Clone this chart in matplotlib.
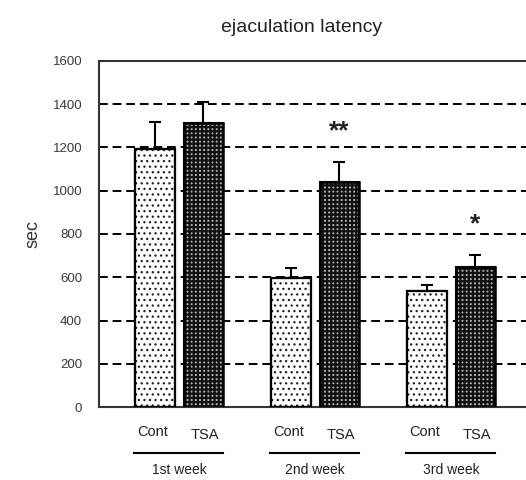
import numpy as np
import matplotlib
matplotlib.use('Agg')
import matplotlib.pyplot as plt

plt.rcParams['font.family'] = ['Liberation Sans', 'DejaVu Sans']

# Data
weeks = ['1st week', '2nd week', '3rd week']
groups = ['Cont', 'TSA']
cont_mean = [1195, 596, 536]
cont_err = [123, 47, 28]
tsa_mean = [1313, 1040, 647]
tsa_err = [97, 93, 56]
stars = ['', '**', '*']
yticks = [0, 200, 400, 600, 800, 1000, 1200, 1400, 1600]

fig = plt.figure(figsize=(5.26, 4.8), dpi=100)
ax = fig.add_axes([0.188, 0.152, 0.812, 0.721])

x = np.arange(len(weeks))
w = 0.29
off = 0.178

# dashed gridlines behind bars
for yv in yticks[1:-1]:
    ax.axhline(yv, color='black', ls=(0, (4.5, 2.5)), lw=1.4, zorder=0)

with plt.rc_context({'hatch.linewidth': 0.9}):
    ax.bar(x - off, cont_mean, w, color='white', edgecolor='#222222', hatch='...',
           lw=1.5, zorder=2)
# TSA: light squares on dark background
with plt.rc_context({'hatch.linewidth': 1.6}):
    ax.bar(x + off, tsa_mean, w, color='#b0b0b0', edgecolor='#111111', hatch='++++',
           lw=1.5, zorder=2)
ax.bar(x - off, cont_mean, w, color='none', edgecolor='black', lw=1.6, zorder=3)
ax.bar(x + off, tsa_mean, w, color='none', edgecolor='black', lw=1.8, zorder=3)

ax.errorbar(x - off, cont_mean, yerr=[np.zeros(3), cont_err], fmt='none',
            ecolor='black', elinewidth=1.5, capsize=4, capthick=1.5, zorder=4)
ax.errorbar(x + off, tsa_mean, yerr=[np.zeros(3), tsa_err], fmt='none',
            ecolor='black', elinewidth=1.5, capsize=4, capthick=1.5, zorder=4)

for i, s in enumerate(stars):
    if s:
        ax.text(x[i] + off, tsa_mean[i] + tsa_err[i] + 140, s, ha='center',
                va='center', fontsize=19, fontweight='bold', color='#222222')

ax.set_ylim(0, 1600)
ax.set_xlim(-0.59, 2.55)
ax.set_yticks(yticks)
ax.set_yticklabels([str(v) for v in yticks], fontsize=9.5, color='#3a3a3a')
ax.tick_params(axis='y', length=0, pad=12)
ax.set_xticks([])
ax.spines['right'].set_visible(False)
for sp in ['left', 'top', 'bottom']:
    ax.spines[sp].set_linewidth(1.5)
    ax.spines[sp].set_color('#333333')

ax.set_ylabel('sec', fontsize=13, color='#333333', labelpad=8)

tr = ax.get_xaxis_transform()
for i, wk in enumerate(weeks):
    ax.text(x[i] - off - 0.02, -0.072, groups[0], transform=tr, ha='center',
            va='center', fontsize=10.5, color='#222222')
    ax.text(x[i] + off + 0.01, -0.081, groups[1], transform=tr, ha='center',
            va='center', fontsize=10.5, color='#222222')
    ax.plot([x[i] - off - w / 2 - 0.01, x[i] + off + w / 2], [-0.133, -0.133],
            transform=tr, color='black', lw=1.5, clip_on=False)
    ax.text(x[i], -0.182, wk, transform=tr, ha='center', va='center',
            fontsize=10, color='#222222')

fig.text(0.573, 0.942, 'ejaculation latency', ha='center', va='center',
         fontsize=14, color='#222222')

fig.savefig('out.png', dpi=100)
